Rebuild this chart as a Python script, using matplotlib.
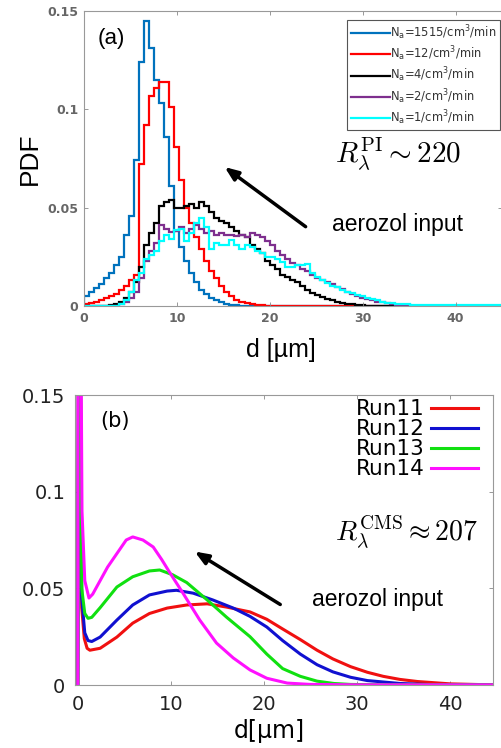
import matplotlib
matplotlib.use("Agg")
import matplotlib.pyplot as plt
import numpy as np

# ---- panel (a): droplet size histograms, bins of 0.54 um starting at 0 ----
bin_width = 0.54
n_bins = 84

pdf_1515 = [0.005, 0.007, 0.009, 0.011, 0.014, 0.017, 0.021, 0.025, 0.036, 0.046,
            0.074, 0.124, 0.145, 0.131, 0.115, 0.103, 0.086, 0.061, 0.038, 0.030,
            0.023, 0.017, 0.012, 0.008, 0.006, 0.004, 0.003, 0.002, 0.001, 0.0005,
            0.0003, 0.0]
pdf_12 = [0.001, 0.0015, 0.002, 0.003, 0.004, 0.005, 0.006, 0.008, 0.010, 0.013,
          0.016, 0.072, 0.092, 0.107, 0.111, 0.114, 0.114, 0.101, 0.081, 0.064,
          0.050, 0.042, 0.035, 0.029, 0.023, 0.018, 0.014, 0.010, 0.007, 0.005,
          0.003, 0.002, 0.0015, 0.001, 0.0005, 0.0003, 0.0]
pdf_4 = [0.0, 0.0, 0.0, 0.0, 0.0, 0.0005, 0.001, 0.002, 0.004, 0.007,
         0.012, 0.020, 0.031, 0.037, 0.042, 0.051, 0.053, 0.054, 0.050, 0.050,
         0.051, 0.052, 0.050, 0.053, 0.051, 0.048, 0.045, 0.043, 0.042, 0.040,
         0.038, 0.036, 0.035, 0.031, 0.029, 0.027, 0.023, 0.021, 0.019, 0.016,
         0.015, 0.013, 0.012, 0.010, 0.008, 0.0065, 0.0055, 0.0045, 0.0035, 0.003,
         0.0022, 0.0015, 0.0012, 0.0008, 0.0005, 0.0003, 0.0]
pdf_2 = [0.0, 0.0, 0.0, 0.0, 0.0, 0.0, 0.0, 0.001, 0.002, 0.004,
         0.007, 0.014, 0.023, 0.028, 0.032, 0.041, 0.039, 0.0375, 0.038, 0.040,
         0.037, 0.039, 0.041, 0.039, 0.037, 0.038, 0.036, 0.037, 0.036, 0.036,
         0.0355, 0.036, 0.035, 0.037, 0.036, 0.035, 0.033, 0.031, 0.028, 0.026,
         0.024, 0.022, 0.021, 0.019, 0.018, 0.016, 0.014, 0.013, 0.012, 0.011,
         0.0095, 0.0085, 0.007, 0.006, 0.005, 0.004, 0.0035, 0.003, 0.0022, 0.0018,
         0.0013, 0.001, 0.0007, 0.0005, 0.0003, 0.0002, 0.0]
pdf_1 = [0.0, 0.0, 0.0, 0.0, 0.0, 0.0, 0.0, 0.001, 0.003, 0.007,
         0.013, 0.017, 0.024, 0.026, 0.028, 0.033, 0.036, 0.034, 0.0385, 0.039,
         0.033, 0.037, 0.042, 0.0445, 0.040, 0.029, 0.032, 0.031, 0.031, 0.0335,
         0.031, 0.029, 0.031, 0.030, 0.028, 0.027, 0.025, 0.025, 0.024, 0.0225,
         0.020, 0.020, 0.021, 0.021, 0.0215, 0.017, 0.015, 0.013, 0.0115, 0.010,
         0.0095, 0.008, 0.0072, 0.0065, 0.0058, 0.005, 0.0042, 0.0035, 0.0028, 0.0022,
         0.0017, 0.0013, 0.001, 0.0009, 0.0008, 0.0007, 0.0006, 0.0005, 0.0005, 0.0005,
         0.0005, 0.0005, 0.0005, 0.0005, 0.0005, 0.0005, 0.0005, 0.0005, 0.0005, 0.0005,
         0.0005, 0.0005, 0.0005, 0.0005]

hist_series = [pdf_1515, pdf_12, pdf_4, pdf_2, pdf_1]
hist_labels = [r"N$_{\rm a}$=1515/cm$^3$/min", r"N$_{\rm a}$=12/cm$^3$/min",
               r"N$_{\rm a}$=4/cm$^3$/min", r"N$_{\rm a}$=2/cm$^3$/min",
               r"N$_{\rm a}$=1/cm$^3$/min"]
hist_colors = ["#0072BD", "#FF0000", "#000000", "#7E2F8E", "#00FFFF"]

# ---- panel (b): model size distributions ----
d_run11 = [0, 0.12, 0.42, 0.7, 1.0, 1.3, 2.4, 4.2, 5.9, 7.7, 9.6, 11.7, 13.9, 16.0,
           18.5, 20.3, 22.0, 23.9, 25.7, 27.4, 29.3, 31.1, 32.8, 34.6, 36.5, 40.0, 43.5, 45]
pdf_run11 = [0, 0.3, 0.04, 0.024, 0.019, 0.018, 0.019, 0.0248, 0.032, 0.037, 0.0398,
             0.0414, 0.042, 0.0403, 0.0378, 0.034, 0.029, 0.0235, 0.018, 0.0135, 0.0095,
             0.0066, 0.0045, 0.0029, 0.0018, 0.0006, 0.0002, 0.0001]
d_run12 = [0, 0.12, 0.42, 0.75, 1.1, 1.5, 2.4, 4.2, 5.9, 7.7, 9.6, 10.6, 12.4, 14.5,
           16.7, 18.5, 20.3, 22.0, 23.9, 25.7, 27.4, 29.3, 31.1, 34.6, 38.0, 45]
pdf_run12 = [0, 0.3, 0.045, 0.027, 0.023, 0.0225, 0.0248, 0.0336, 0.0414, 0.0466, 0.0486,
             0.049, 0.0475, 0.044, 0.0398, 0.0355, 0.030, 0.023, 0.016, 0.0105, 0.0068,
             0.004, 0.0023, 0.0008, 0.0002, 0.0001]
d_run13 = [0, 0.12, 0.42, 0.75, 1.1, 1.5, 2.4, 4.2, 5.9, 7.7, 8.8, 10.2, 11.7, 13.9,
           16.0, 18.5, 20.3, 22.0, 23.9, 25.7, 27.5, 29.3, 33.0, 45]
pdf_run13 = [0, 0.3, 0.05, 0.037, 0.0345, 0.035, 0.040, 0.0507, 0.056, 0.059, 0.0595,
             0.057, 0.053, 0.044, 0.035, 0.025, 0.016, 0.0085, 0.0045, 0.002, 0.0008,
             0.0003, 0.0001, 0.0001]
d_run14 = [0, 0.05, 0.2, 0.45, 0.75, 1.2, 1.6, 2.4, 3.2, 4.2, 5.2, 5.9, 7.0, 8.1, 9.0,
           9.9, 11.3, 13.1, 14.9, 16.7, 18.5, 20.3, 22.5, 25.0, 30.0, 45]
pdf_run14 = [0, 0.3, 0.3, 0.09, 0.054, 0.045, 0.047, 0.054, 0.061, 0.068, 0.075, 0.0766,
             0.075, 0.0714, 0.065, 0.058, 0.0475, 0.0336, 0.0217, 0.014, 0.0078, 0.0035,
             0.001, 0.0003, 0.0001, 0.0001]

run_d = [d_run11, d_run12, d_run13, d_run14]
run_pdf = [pdf_run11, pdf_run12, pdf_run13, pdf_run14]
run_labels = ["Run11", "Run12", "Run13", "Run14"]
run_colors = ["#F01010", "#1010D0", "#10E010", "#FF10FF"]

fig = plt.figure(figsize=(5.02, 7.48), dpi=100)

# ================= panel (a) =================
ax1 = fig.add_axes([0.1673, 0.5909, 0.8327, 0.3944])
edges = np.arange(n_bins + 1) * bin_width
for vals, col, lab in zip(hist_series, hist_colors, hist_labels):
    v = np.zeros(n_bins)
    v[:len(vals)] = vals
    ax1.stairs(v, edges, color=col, lw=1.6, label=lab)

ax1.set_xlim(0, 45)
ax1.set_ylim(0, 0.15)
ax1.set_xticks([0, 10, 20, 30, 40])
ax1.set_xticklabels(["0", "10", "20", "30", "40"])
ax1.set_yticks([0, 0.05, 0.1, 0.15])
ax1.set_yticklabels(["0", "0.05", "0.1", "0.15"])
ax1.tick_params(direction="in", top=True, right=True, length=3, width=0.6,
                color="#888888", labelcolor="#666666", labelsize=9, pad=4)
for lab in ax1.get_xticklabels() + ax1.get_yticklabels():
    lab.set_fontweight("bold")
for sp in ax1.spines.values():
    sp.set_color("#999999")
    sp.set_linewidth(0.8)
ax1.set_ylabel("PDF", fontsize=19, family="Liberation Sans", labelpad=4)
ax1.set_xlabel("d [µm]", fontsize=18, family="Liberation Sans", labelpad=10)
ax1.xaxis.label.set_x(0.47)

leg1 = ax1.legend(loc="upper right", bbox_to_anchor=(0.995, 0.97), fontsize=8.3,
                  fancybox=False, edgecolor="#555555", framealpha=1,
                  handlelength=3.4, handletextpad=0.0, labelspacing=0.22,
                  borderpad=0.3, borderaxespad=0)
leg1.get_frame().set_linewidth(0.8)
for t in leg1.get_texts():
    t.set_color("#333333")

ax1.text(1.5, 0.136, "(a)", fontsize=16, family="Liberation Sans", va="center")
ax1.text(27.0, 0.077, r"$R_\lambda^{\rm PI} \sim 220$", fontsize=21,
         math_fontfamily="cm", va="center")
ax1.text(26.7, 0.0416, "aerozol input", fontsize=16.5, family="Liberation Sans",
         va="center")
ax1.annotate("", xy=(14.9, 0.0715), xytext=(24.1, 0.0395),
             arrowprops=dict(arrowstyle="-|>,head_length=0.8,head_width=0.32",
                             color="black", lw=2.5))

# ================= panel (b) =================
ax2 = fig.add_axes([0.1494, 0.0842, 0.8327, 0.3877])
for d, p, col, lab in zip(run_d, run_pdf, run_colors, run_labels):
    ax2.plot(d, p, color=col, lw=2.2, label=lab, solid_joinstyle="round")

ax2.set_xlim(-0.3, 44.6)
ax2.set_ylim(0, 0.15)
ax2.set_xticks([0, 10, 20, 30, 40])
ax2.set_xticklabels(["0", "10", "20", "30", "40"])
ax2.set_yticks([0, 0.05, 0.1, 0.15])
ax2.set_yticklabels(["0", "0.05", "0.1", "0.15"])
ax2.tick_params(direction="in", top=True, right=True, length=3, width=0.6,
                color="#888888", labelcolor="#222222", labelsize=14, pad=7)
for sp in ax2.spines.values():
    sp.set_color("#999999")
    sp.set_linewidth(0.8)
ax2.set_xlabel("d[µm]", fontsize=17, labelpad=4)
ax2.xaxis.label.set_x(0.465)

leg2 = ax2.legend(loc="upper right", bbox_to_anchor=(0.965, 0.985), fontsize=15.5,
                  frameon=False, markerfirst=False, handlelength=2.2,
                  handletextpad=0.3, labelspacing=0.0, borderpad=0,
                  borderaxespad=0)

ax2.text(2.4, 0.1366, "(b)", fontsize=15, va="center")
ax2.text(27.6, 0.079, r"$R_\lambda^{\rm CMS} \approx \mathbf{207}$",
         fontsize=20, math_fontfamily="cm", va="center")
ax2.text(25.2, 0.044, "aerozol input", fontsize=16.5, family="Liberation Sans",
         va="center")
ax2.annotate("", xy=(12.3, 0.0698), xytext=(22.0, 0.0409),
             arrowprops=dict(arrowstyle="-|>,head_length=0.8,head_width=0.32",
                             color="black", lw=2.5))

fig.savefig("out.png", dpi=100)
